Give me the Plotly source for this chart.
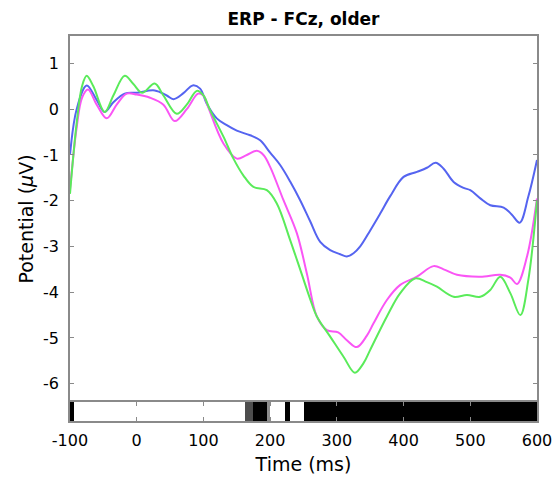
import numpy as np
import plotly.graph_objects as go

# ---- data ----
t_blue = [-100, -90, -75, -60, -48, -35, -18, 0, 27, 45, 55, 70, 84, 95, 105, 120, 135, 150, 170, 185,
          200, 215, 230, 245, 260, 275, 290, 305, 315, 325, 335, 350, 365, 380, 400, 420, 435, 448,
          460, 475, 490, 500, 515, 530, 550, 562, 574, 587, 600]
v_blue = [-1.0, 0.0, 0.52, 0.2, -0.06, 0.15, 0.34, 0.36, 0.41, 0.3, 0.22, 0.35, 0.52, 0.45, 0.12,
          -0.2, -0.35, -0.47, -0.57, -0.68, -0.95, -1.22, -1.58, -1.99, -2.45, -2.9, -3.08, -3.17,
          -3.22, -3.15, -3.0, -2.65, -2.28, -1.9, -1.48, -1.37, -1.28, -1.17, -1.3, -1.59, -1.72,
          -1.77, -1.95, -2.1, -2.15, -2.3, -2.48, -1.91, -1.11]

t_green = [-100, -90, -82, -75, -65, -48, -35, -18, -5, 8, 27, 40, 60, 75, 90, 100, 110, 130, 145, 160,
           175, 195, 210, 230, 247, 260, 270, 290, 310, 327, 340, 350, 375, 395, 417, 435, 450, 475,
           495, 515, 530, 545, 560, 575, 587, 600]
v_green = [-1.85, -0.3, 0.5, 0.73, 0.5, -0.06, 0.3, 0.73, 0.55, 0.36, 0.56, 0.3, -0.1, 0.1, 0.4, 0.3,
           -0.02, -0.6, -1.08, -1.45, -1.7, -1.77, -2.06, -2.86, -3.59, -4.15, -4.53, -4.97, -5.41,
           -5.76, -5.55, -5.26, -4.53, -4.02, -3.7, -3.78, -3.88, -4.1, -4.06, -4.1, -3.95, -3.66,
           -4.02, -4.5, -3.73, -1.99]

t_mag = [-100, -90, -82, -73, -60, -45, -30, -15, 0, 20, 40, 57, 75, 92, 100, 107, 130, 150, 165, 180,
         190, 200, 220, 240, 255, 270, 285, 302, 315, 330, 345, 355, 375, 395, 420, 445, 460, 480,
         515, 545, 560, 570, 585, 600]
v_mag = [-1.75, -0.4, 0.25, 0.43, 0.1, -0.2, 0.1, 0.34, 0.32, 0.25, 0.1, -0.26, 0.0, 0.34, 0.3, 0.05,
         -0.75, -1.08, -1.0, -0.91, -1.0, -1.26, -1.99, -2.71, -3.59, -4.53, -4.83, -4.88, -5.05,
         -5.2, -4.95, -4.68, -4.17, -3.84, -3.66, -3.43, -3.5, -3.62, -3.66, -3.62, -3.68, -3.82,
         -3.22, -1.95]

# significance segments (start ms, end ms, darkness)
sig_start = [-100, 163, 175, 195, 223, 251]
sig_end = [-94, 175, 195, 200, 230, 600]
sig_level = [1.0, 0.7, 1.0, 0.45, 1.0, 1.0]

x_ticks = [-100, 0, 100, 200, 300, 400, 500, 600]
y_ticks = [-6, -5, -4, -3, -2, -1, 0, 1]

# ---- build significance row (1 ms bins) ----
bin_centers = np.arange(-100, 600) + 0.5
z_row = np.zeros_like(bin_centers)
for s, e, lv in zip(sig_start, sig_end, sig_level):
    z_row[(bin_centers >= s) & (bin_centers < e)] = lv

BLUE = "rgb(85,100,240)"
GREEN = "rgb(90,235,90)"
MAG = "rgb(250,85,245)"
AXC = "#8a8a8a"
FONT = "DejaVu Sans, Liberation Sans, Arial, sans-serif"

fig = go.Figure()
for t, v, c in [(t_blue, v_blue, BLUE), (t_mag, v_mag, MAG), (t_green, v_green, GREEN)]:
    fig.add_trace(go.Scatter(x=t, y=v, mode="lines", line=dict(color=c, width=2, shape="spline", smoothing=1.0),
                             xaxis="x", yaxis="y", showlegend=False, hoverinfo="skip"))

fig.add_trace(go.Heatmap(x=bin_centers, y=[0.5], z=[z_row], colorscale=[[0, "white"], [1, "black"]],
                         zmin=0, zmax=1, showscale=False, xaxis="x", yaxis="y2", hoverinfo="skip"))

bar_frac = 19 / 385
fig.update_layout(
    width=556, height=487,
    margin=dict(l=70, r=19, t=36, b=66, autoexpand=False),
    paper_bgcolor="white", plot_bgcolor="white",
    font=dict(family=FONT, size=16, color="black"),
    title=dict(text="<b>ERP - FCz, older</b>", x=(70 + 537) / 2 / 556, xanchor="center",
               y=1 - 19 / 487, yanchor="middle", font=dict(size=17, family=FONT)),
    xaxis=dict(anchor="y2", range=[-100, 600], tickvals=x_ticks, ticktext=[str(v) for v in x_ticks],
               ticks="inside", ticklen=4, tickcolor=AXC, showline=True, linecolor=AXC, linewidth=1.5,
               mirror="all", showgrid=False, zeroline=False, automargin=False, ticklabelstandoff=4,
               title=dict(text="Time (ms)", font=dict(size=19), standoff=9)),
    yaxis=dict(domain=[bar_frac, 1], range=[-6.4, 1.6], tickvals=y_ticks,
               ticktext=[str(v) for v in y_ticks], ticks="inside", ticklen=4, tickcolor=AXC,
               showline=True, linecolor=AXC, linewidth=1.5, mirror="ticks", showgrid=False,
               zeroline=False, automargin=False, ticklabelstandoff=6,
               title=dict(text="Potential (<i>μ</i>V)", font=dict(size=19), standoff=4)),
    yaxis2=dict(domain=[0, bar_frac], range=[0, 1], showticklabels=False, ticks="",
                showline=True, linecolor=AXC, linewidth=1.5, mirror=True, showgrid=False, zeroline=False,
                automargin=False),
)

fig.write_html("out.html")
